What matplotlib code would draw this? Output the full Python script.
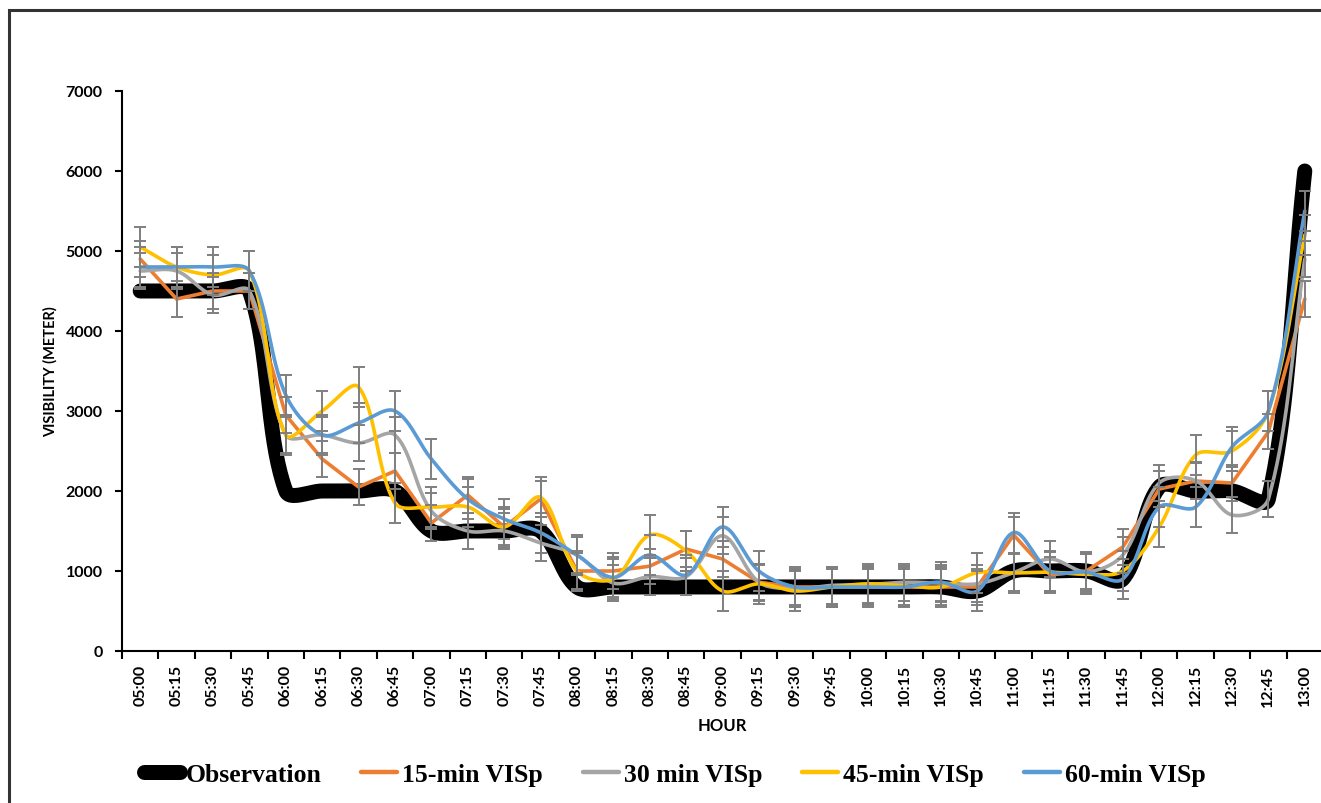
import numpy as np
import matplotlib
matplotlib.use("Agg")
import matplotlib.pyplot as plt
from matplotlib.lines import Line2D
from matplotlib.patches import Rectangle

# ---- data -------------------------------------------------------------
hours = ["05:00", "05:15", "05:30", "05:45", "06:00", "06:15", "06:30", "06:45",
         "07:00", "07:15", "07:30", "07:45", "08:00", "08:15", "08:30", "08:45",
         "09:00", "09:15", "09:30", "09:45", "10:00", "10:15", "10:30", "10:45",
         "11:00", "11:15", "11:30", "11:45", "12:00", "12:15", "12:30", "12:45",
         "13:00"]

observation = [4500, 4500, 4500, 4500, 2000, 2000, 2000, 2000,
               1500, 1500, 1500, 1500, 800, 800, 800, 800,
               800, 800, 800, 800, 800, 800, 800, 750,
               1000, 1000, 1000, 900, 2050, 2000, 2000, 1900,
               6000]

visp_15 = [4900, 4400, 4500, 4500, 2950, 2400, 2050, 2250,
           1600, 1950, 1550, 1900, 1000, 1000, 1060, 1275,
           1150, 860, 800, 800, 800, 800, 800, 800,
           1450, 950, 1000, 1300, 2025, 2125, 2100, 2740,
           4400]

visp_30 = [4750, 4750, 4450, 4500, 2700, 2700, 2600, 2700,
           1750, 1500, 1500, 1350, 1200, 850, 930, 930,
           1440, 860, 780, 820, 830, 860, 850, 840,
           980, 1150, 990, 1200, 2100, 2130, 1700, 1900,
           4900]

visp_45 = [5050, 4800, 4700, 4750, 2700, 3000, 3300, 1850,
           1800, 1800, 1550, 1920, 1000, 900, 1450, 1250,
           750, 840, 750, 800, 840, 815, 800, 980,
           975, 985, 960, 1000, 1550, 2450, 2500, 3000,
           5200]

visp_60 = [4800, 4800, 4800, 4750, 3200, 2700, 2850, 3000,
           2400, 1900, 1650, 1480, 1200, 920, 1200, 950,
           1550, 1000, 800, 800, 800, 800, 860, 750,
           1480, 1000, 985, 900, 1800, 1800, 2550, 3000,
           5500]

series_names = ["Observation", "15-min VISp", "30 min VISp", "45-min VISp", "60-min VISp"]
y_ticks = [0, 1000, 2000, 3000, 4000, 5000, 6000, 7000]

# ---- figure -----------------------------------------------------------
W, H = 1321, 804
fig = plt.figure(figsize=(W / 100, H / 100), dpi=100)
fig.patch.set_facecolor("white")

# outer chart frame (runs past the right and bottom edges)
fig.patches.append(Rectangle((9 / W, -0.05), 1.2, (H - 11) / H + 0.05,
                             transform=fig.transFigure, fill=False,
                             edgecolor="#333333", linewidth=2.2))

ax_left, ax_right, ax_top, ax_bottom = 122, 1323, 92, 652
ax = fig.add_axes([ax_left / W, (H - ax_bottom) / H,
                   (ax_right - ax_left) / W, (ax_bottom - ax_top) / H])
ax.set_xlim(-0.5, len(hours) - 0.5)
ax.set_ylim(0, 7000)

TICK_FONT = dict(family="Lato", weight="bold", size=11.5)


def excel_smooth(ax, xs, ys, samples=40):
    """Excel-style smoothed line: Bezier segments whose control points
    are scaled by neighbouring segment lengths in screen space."""
    pts = ax.transData.transform(np.column_stack([xs, ys]))
    n = len(pts)
    out = []
    t = np.linspace(0, 1, samples)[:, None]
    for i in range(n - 1):
        p0 = pts[i - 1] if i > 0 else pts[i]
        p1, p2 = pts[i], pts[i + 1]
        p3 = pts[i + 2] if i + 2 < n else pts[i + 1]
        d01 = np.hypot(*(p1 - p0))
        d12 = np.hypot(*(p2 - p1))
        d23 = np.hypot(*(p3 - p2))
        a = d12 / (d01 + d12) if d01 + d12 > 0 else 0.5
        b = d12 / (d12 + d23) if d12 + d23 > 0 else 0.5
        c1 = p1 + (p2 - p0) * a / 3.0
        c2 = p2 - (p3 - p1) * b / 3.0
        seg = ((1 - t) ** 3) * p1 + 3 * ((1 - t) ** 2) * t * c1 \
            + 3 * (1 - t) * t ** 2 * c2 + t ** 3 * p2
        out.append(seg if i == 0 else seg[1:])
    curve = ax.transData.inverted().transform(np.vstack(out))
    return curve[:, 0], curve[:, 1]


x = np.arange(len(hours))
colors = ["#000000", "#ED7D31", "#A5A5A5", "#FFC000", "#5B9BD5"]
values = [observation, visp_15, visp_30, visp_45, visp_60]
smoothed = [True, False, True, True, True]
widths = [10.8, 2.6, 2.6, 2.6, 2.6]

for vals, col, sm, lw in zip(values, colors, smoothed, widths):
    if sm:
        sx, sy = excel_smooth(ax, x, np.asarray(vals, float))
    else:
        sx, sy = x, vals
    ax.plot(sx, sy, color=col, lw=lw, solid_capstyle="round",
            solid_joinstyle="round", zorder=2)

# standard-error bars on the forecast series
for vals in values[1:]:
    v = np.asarray(vals, float)
    se = v.std(ddof=1) / np.sqrt(len(v))
    ax.errorbar(x, v, yerr=se, fmt="none", ecolor="#7F7F7F",
                elinewidth=1.4, capsize=4.5, capthick=1.4, zorder=3)

# axes styling
for side in ("top", "right"):
    ax.spines[side].set_visible(False)
for side in ("left", "bottom"):
    ax.spines[side].set_linewidth(1.5)
    ax.spines[side].set_color("black")

ax.set_yticks(y_ticks)
ax.set_yticklabels([str(v) for v in y_ticks], fontdict=TICK_FONT)
ax.tick_params(axis="y", direction="out", length=5, width=1.5, pad=9)

ax.set_xticks(np.arange(len(hours) + 1) - 0.5)
ax.set_xticklabels([])
ax.tick_params(axis="x", which="major", direction="out", length=6, width=1.5)
ax.set_xticks(x, minor=True)
ax.set_xticklabels(hours, minor=True, rotation=90, fontdict=TICK_FONT)
ax.tick_params(axis="x", which="minor", length=0, pad=9.5)

ax.set_xlabel("HOUR", fontdict=dict(family="Lato", weight="bold", size=12))
ax.xaxis.set_label_coords(0.5, -0.117)
ax.set_ylabel("VISIBILITY (METER)", fontdict=dict(family="Lato", weight="bold", size=10.5))
ax.yaxis.set_label_coords(-0.0595, 0.5)
ax.yaxis.label.set_va("center")

# legend
handles = [Line2D([0], [0], color=c, lw=(10.8 if i == 0 else 3.2),
                  solid_capstyle="round") for i, c in enumerate(colors)]
fig.legend(handles, series_names, loc="center", bbox_to_anchor=(0.511, 0.036),
           ncol=5, frameon=False, handlelength=1.4, handletextpad=0.2,
           columnspacing=1.55,
           prop=dict(family="Liberation Serif", weight="bold", size=18.5))

fig.savefig("out.png", dpi=100)
